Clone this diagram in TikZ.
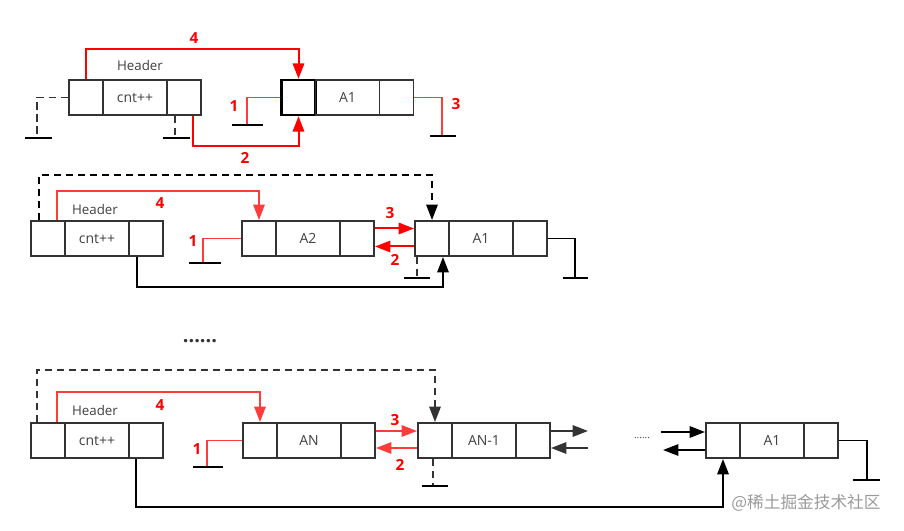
\documentclass[tikz,border=0pt]{standalone}
\usepackage{fontspec}
\setmainfont{Open Sans}
\newfontfamily\cjkf{Noto Sans CJK SC}
\usetikzlibrary{arrows.meta,calc}
\definecolor{boxc}{HTML}{333333}
\definecolor{txt}{HTML}{404040}
\definecolor{redA}{HTML}{FF0000}
\definecolor{redB}{HTML}{FF3B3B}
\definecolor{wm}{HTML}{9A9A9A}
\begin{document}
\begin{tikzpicture}[x=0.75pt,y=-0.75pt,
  >={Triangle[length=11.5pt,width=8.5pt]},
  cell/.style={draw=boxc,line width=1.45pt,minimum height=26.25pt,inner sep=0pt,text=txt,font=\fontsize{10.5}{12}\selectfont},
  sc/.style={cell,minimum width=25.5pt},
  wc/.style={cell,minimum width=48pt},
  rl/.style={draw=redB,line width=1.3pt},
  rA/.style={draw=redA,line width=1.5pt},
  bl/.style={draw=black,line width=1.45pt},
  num/.style={text=redA,font=\bfseries\fontsize{11.5}{13}\selectfont},
  gnd/.style={draw=black,line width=1.45pt},
  dsh/.style={draw=boxc,line width=1.45pt,dash pattern=on 5.5pt off 3.5pt},
  lbl/.style={text=txt,font=\fontsize{10}{11}\selectfont}]
\useasboundingbox (0,0) rectangle (904,531);

% ---------------- Row 1 ----------------
\node[sc] (h1l) at (86,97.5) {};
\node[wc] (h1m) at (135,97.5) {cnt++};
\node[sc] (h1r) at (184,97.5) {};
\node[lbl] (h1t) at (140,66) {Header};
\node[sc,draw=black,line width=1.8pt] (a1l) at (298.5,97.5) {};
\node[wc] (a1m) at (347.5,97.5) {A1};
\node[sc] (a1r) at (396.5,97.5) {};

\coordinate (g1a) at (37,138);
\draw[dsh] (h1l.west) -| (g1a);
\draw[gnd] ($(g1a)+(-12,0)$) -- ($(g1a)+(15,0)$);
\coordinate (g1b) at (175,138);
\draw[dsh] (h1r.south -| g1b) -- (g1b);
\draw[gnd] ($(g1b)+(-12,0)$) -- ($(g1b)+(15,0)$);

\draw[rA,->] (h1l.north) -- ++(0,-30) -| (a1l.north);
\draw[rA,->] ($(h1r.south)+(9,0)$) -- ++(0,30) -| (a1l.south);
\coordinate (g1c) at (247,125);
\draw[rl,line width=1.1pt] (a1l.west) -| (g1c);
\draw[gnd] ($(g1c)+(-15,0)$) -- ($(g1c)+(16,0)$);
\coordinate (g1d) at (442,136);
\draw[rl,line width=1.1pt] (a1r.east) -| (g1d);
\draw[gnd] ($(g1d)+(-12,0)$) -- ($(g1d)+(14,0)$);

\node[num] (n14) at (194,38) {4};
\node[num] (n12) at (245,158) {2};
\node[num] (n11) at (234,106) {1};
\node[num] (n13) at (456,104) {3};

% ---------------- Row 2 ----------------
\node[sc] (h2l) at (48,238.5) {};
\node[wc] (h2m) at (97,238.5) {cnt++};
\node[sc] (h2r) at (146,238.5) {};
\node[lbl] (h2t) at (95,210) {Header};
\node[sc] (a2l) at (259,238.5) {};
\node[wc] (a2m) at (308,238.5) {A2};
\node[sc] (a2r) at (357,238.5) {};
\node[sc] (b1l) at (432,238.5) {};
\node[wc] (b1m) at (481,238.5) {A1};
\node[sc] (b1r) at (530,238.5) {};

\draw[dsh,draw=black,->] ($(h2l.north)+(-9,0)$) -- ++(0,-45) -| (b1l.north);
\draw[rl,->] ($(h2l.north)+(9,0)$) -- ++(0,-29) -| (a2l.north);
\coordinate (g2a) at (203,263);
\draw[rl] (a2l.west) -| (g2a);
\draw[gnd] ($(g2a)+(-14,0)$) -- ($(g2a)+(18,0)$);
\draw[bl,->] ($(h2r.south)+(-9,0)$) -- ++(0,30) -| ($(b1l.south)+(11,0)$);
\draw[rA,->] ($(a2r.east)+(0,-10)$) -- ($(b1l.west)+(0,-10)$);
\draw[rA,->] ($(b1l.west)+(0,8)$) -- ($(a2r.east)+(0,8)$);
\coordinate (g2b) at (417,278);
\draw[dsh] (b1l.south -| g2b) -- (g2b);
\draw[gnd] ($(g2b)+(-13,0)$) -- ($(g2b)+(13,0)$);
\coordinate (g2c) at (575,278);
\draw[bl] (b1r.east) -| (g2c);
\draw[gnd] ($(g2c)+(-12,0)$) -- ($(g2c)+(13,0)$);

\node[num] (n24) at (160,203) {4};
\node[num] (n21) at (193,241) {1};
\node[num] (n23) at (390,213) {3};
\node[num] (n22) at (395,260) {2};

\node[text=boxc,font=\bfseries\fontsize{15}{16}\selectfont] (dots) at (200,341) {......};

% ---------------- Row 3 ----------------
\node[sc] (h3l) at (48,440.5) {};
\node[wc] (h3m) at (97,440.5) {cnt++};
\node[sc] (h3r) at (146,440.5) {};
\node[lbl] (h3t) at (95,410) {Header};
\node[sc] (anl) at (260,440.5) {};
\node[wc] (anm) at (309,440.5) {AN};
\node[sc] (anr) at (358,440.5) {};
\node[sc] (an1l) at (435,440.5) {};
\node[wc] (an1m) at (484,440.5) {AN-1};
\node[sc] (an1r) at (533,440.5) {};
\node[sc] (c1l) at (723,440.5) {};
\node[wc] (c1m) at (772,440.5) {A1};
\node[sc] (c1r) at (821,440.5) {};

\draw[dsh,->] ($(h3l.north)+(-11,0)$) -- ++(0,-52) -| (an1l.north);
\draw[rl,->] ($(h3l.north)+(9,0)$) -- ++(0,-30) -| (anl.north);
\coordinate (g3a) at (207,467);
\draw[rl] (anl.west) -| (g3a);
\draw[gnd] ($(g3a)+(-14,0)$) -- ($(g3a)+(16,0)$);
\draw[bl,->] ($(h3r.south)+(-10,0)$) -- ++(0,48) -| (c1l.south);
\draw[rl,->] ($(anr.east)+(0,-9.5)$) -- ($(an1l.west)+(0,-9.5)$);
\draw[rl,->] ($(an1l.west)+(0,7.5)$) -- ($(anr.east)+(0,7.5)$);
\coordinate (g3b) at (433,486);
\draw[dsh] (an1l.south -| g3b) -- (g3b);
\draw[gnd] ($(g3b)+(-11,0)$) -- ($(g3b)+(15,0)$);

\coordinate (o1) at (588,431);
\coordinate (o2) at (588,448);
\draw[bl,draw=boxc,->] (an1r.east |- o1) -- (o1);
\draw[bl,draw=boxc,->] (o2) -- (an1r.east |- o2);
\node[text=txt,font=\fontsize{7.5}{8}\selectfont] (dots2) at (642,438) {......};
\coordinate (i1) at (661,432);
\coordinate (i2) at (663,450);
\draw[bl,->] (i1) -- (c1l.west |- i1);
\draw[bl,->] (c1l.west |- i2) -- (i2);
\coordinate (g3c) at (867,480);
\draw[bl] (c1r.east) -| (g3c);
\draw[gnd] ($(g3c)+(-14,0)$) -- ($(g3c)+(13,0)$);

\node[num] (n34) at (160,405) {4};
\node[num] (n31) at (197,449) {1};
\node[num] (n33) at (395,420) {3};
\node[num] (n32) at (400,465) {2};

\node[text=wm,font=\cjkf\fontsize{12.5}{14}\selectfont] (wmk) at (806,503) {@稀土掘金技术社区};
\end{tikzpicture}
\end{document}
